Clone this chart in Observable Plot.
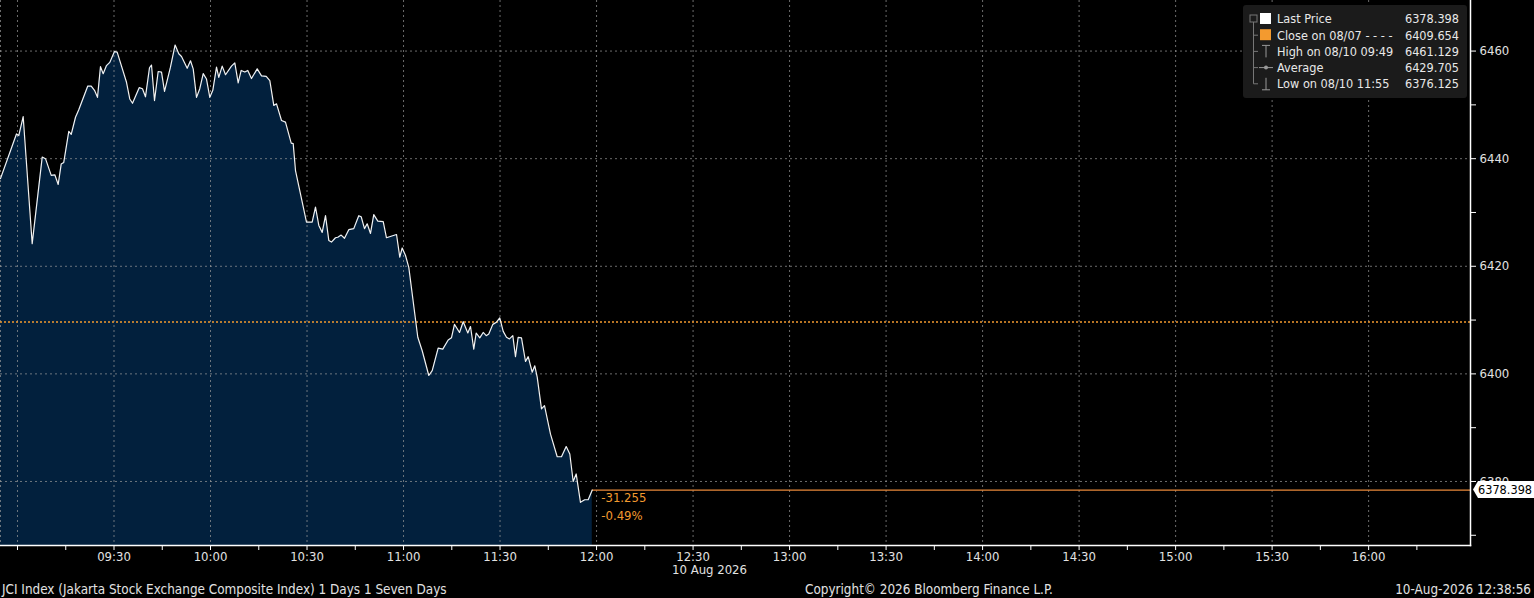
<!DOCTYPE html>
<html>
<head>
<meta charset="utf-8">
<script src="https://cdn.jsdelivr.net/npm/d3@7"></script>
<script src="https://cdn.jsdelivr.net/npm/@observablehq/plot@0.6"></script>
<style>
  body { margin: 0; background: #000; }
  #wrap {
    position: relative; width: 1534px; height: 598px; overflow: hidden; background: #000;
    font-family: "Liberation Sans Narrow", "DejaVu Sans Condensed", "Liberation Sans", sans-serif;
    color: #e2e2e2;
  }
  #legend { position: absolute; left: 1243px; top: 5px; }
  #footer { position: absolute; left: 0; top: 581px; width: 1534px; height: 17px; font-size: 13.4px; line-height: 17px; }
  #footer span { position: absolute; white-space: nowrap; }
</style>
</head>
<body>
<div id="wrap">
  <div id="chart"></div>
  <div id="legend"></div>
  <div id="footer"></div>
</div>
<script>
// intraday JCI prints
const times = [
  "08:54:43", "08:59:41", "09:00:24", "09:01:46", "09:04:34", "09:07:41", "09:08:42", "09:10:29",
  "09:11:36", "09:12:39", "09:13:35", "09:14:23", "09:15:57", "09:16:42", "09:18:02", "09:19:03",
  "09:21:51", "09:22:55", "09:23:56", "09:24:52", "09:25:48", "09:26:38", "09:27:40", "09:28:42",
  "09:30:09", "09:30:59", "09:33:53", "09:34:54", "09:35:45", "09:37:50", "09:38:51", "09:39:47",
  "09:41:02", "09:41:39", "09:42:35", "09:43:44", "09:44:46", "09:45:42", "09:47:33", "09:49:00",
  "09:50:08", "09:50:59", "09:52:45", "09:53:47", "09:54:37", "09:55:39", "09:56:40", "09:57:44",
  "09:58:45", "09:59:47", "10:00:43", "10:01:52", "10:02:34", "10:03:38", "10:04:40", "10:06:31",
  "10:07:33", "10:08:36", "10:09:32", "10:10:40", "10:11:35", "10:12:44", "10:14:31", "10:15:51",
  "10:17:19", "10:18:26", "10:19:40", "10:20:31", "10:22:04", "10:23:18", "10:25:05", "10:25:42",
  "10:26:25", "10:29:50", "10:31:36", "10:32:38", "10:33:40", "10:34:43", "10:35:45", "10:36:46",
  "10:37:36", "10:38:51", "10:39:34", "10:40:37", "10:41:39", "10:42:59", "10:44:32", "10:46:05",
  "10:46:50", "10:47:52", "10:48:42", "10:49:44", "10:50:45", "10:52:00", "10:53:41", "10:54:42",
  "10:57:49", "10:58:50", "10:59:35", "11:00:37", "11:01:38", "11:04:26", "11:05:48", "11:07:51",
  "11:08:55", "11:10:46", "11:12:12", "11:13:53", "11:14:54", "11:15:50", "11:17:24", "11:18:33",
  "11:19:59", "11:20:49", "11:21:50", "11:22:35", "11:23:42", "11:24:46", "11:25:42", "11:26:30",
  "11:27:45", "11:28:54", "11:29:55", "11:30:59", "11:32:00", "11:32:56", "11:33:58", "11:34:48",
  "11:35:38", "11:36:40", "11:37:55", "11:38:45", "11:40:00", "11:40:48", "11:41:33", "11:42:53",
  "11:43:49", "11:45:41", "11:47:46", "11:49:06", "11:50:34", "11:51:41", "11:52:44", "11:53:40",
  "11:55:00", "11:56:20", "11:57:24", "11:58:40"
];
const prices = [
  6436.3, 6444.6, 6444.3, 6447.8, 6424.2, 6440.3, 6440.0, 6436.9,
  6437.0, 6435.2, 6439.0, 6439.3, 6445.1, 6444.5, 6447.7, 6449.1,
  6453.5, 6453.5, 6452.7, 6451.4, 6457.1, 6455.8, 6457.3, 6457.9,
  6459.9, 6459.8, 6454.2, 6451.1, 6450.3, 6453.2, 6453.0, 6451.5,
  6456.9, 6457.4, 6450.8, 6456.2, 6456.1, 6452.5, 6457.0, 6461.129,
  6459.5, 6459.0, 6456.8, 6458.2, 6456.7, 6451.4, 6453.0, 6455.8,
  6454.8, 6451.4, 6452.7, 6457.0, 6455.1, 6457.2, 6455.6, 6457.2,
  6457.8, 6454.1, 6456.4, 6456.1, 6456.4, 6454.9, 6456.7, 6455.4,
  6455.3, 6454.5, 6449.9, 6450.2, 6447.1, 6446.8, 6442.9, 6442.8,
  6437.8, 6428.2, 6428.2, 6431.0, 6427.6, 6426.3, 6429.4, 6424.8,
  6424.5, 6425.3, 6425.4, 6425.8, 6425.2, 6426.8, 6427.0, 6429.4,
  6429.2, 6427.0, 6427.9, 6426.1, 6429.6, 6428.4, 6428.3, 6425.3,
  6425.9, 6421.7, 6423.4, 6422.0, 6419.8, 6406.8, 6404.3, 6399.7,
  6400.6, 6404.8, 6404.6, 6406.3, 6406.7, 6409.2, 6407.7, 6409.7,
  6407.6, 6408.8, 6404.6, 6407.6, 6406.7, 6407.7, 6407.1, 6407.4,
  6409.2, 6409.6, 6410.4, 6407.9, 6406.8, 6406.5, 6407.1, 6403.2,
  6406.8, 6406.7, 6402.3, 6403.2, 6400.3, 6401.5, 6399.4, 6393.5,
  6394.1, 6388.8, 6384.6, 6384.6, 6386.5, 6385.1, 6380.0, 6381.4,
  6376.125, 6376.6, 6376.6, 6378.398
];

const prevClose = 6409.654;
const lastPrice = 6378.398;
const changeLabels = ["-31.255", "-0.49%"];

const legendLabels = ["Last Price", "Close on 08/07 - - - -", "High on 08/10 09:49", "Average", "Low on 08/10 11:55"];
const legendValues = ["6378.398", "6409.654", "6461.129", "6429.705", "6376.125"];

const yTicks = [6370, 6380, 6390, 6400, 6410, 6420, 6430, 6440, 6450, 6460];
const yGrid = [6380, 6400, 6420, 6440, 6460];
const dateLabel = "10 Aug 2026";
const footerLeft = "JCI Index (Jakarta Stock Exchange Composite Index) 1 Days 1 Seven Days";
const footerMid = "Copyright\u00a9 2026 Bloomberg Finance L.P.";
const footerRight = "10-Aug-2026 12:38:56";

const parse = d3.utcParse("%H:%M:%S");
const data = times.map((t, i) => ({ time: parse(t), price: prices[i] }));
const last = data[data.length - 1];

const xStart = parse("08:54:43");
const xEnd = parse("16:31:40");
const tick15 = d3.utcMinute.every(15).range(parse("09:00:00"), parse("16:15:01"));
const grid30 = d3.utcMinute.every(30).range(parse("09:00:00"), parse("16:00:01"));
const fmt = d3.utcFormat("%H:%M");

const font = `"Liberation Sans Narrow", "DejaVu Sans Condensed", "Liberation Sans", sans-serif`;
const orange = "#f39a2f";
const gridStyle = { stroke: "#9a9a9a", strokeOpacity: 0.7, strokeDasharray: "2,3" };

const chart = Plot.plot({
  width: 1534,
  height: 581,
  marginTop: 0,
  marginLeft: 0,
  marginRight: 64,
  marginBottom: 36,
  style: { background: "#000", color: "#e2e2e2", fontFamily: font, fontSize: "13px" },
  x: { type: "utc", domain: [xStart, xEnd], axis: null },
  y: { domain: [6368.1, 6469.4], axis: null, clamp: true },
  marks: [
    Plot.areaY(data, { x: "time", y: "price", fill: "#02203d" }),
    Plot.gridX(grid30, gridStyle),
    Plot.gridY(yGrid, gridStyle),
    Plot.ruleX([xStart], gridStyle),
    Plot.ruleY([prevClose], { stroke: orange, strokeWidth: 1.6, strokeDasharray: "2,2" }),
    Plot.ruleY([lastPrice], { x1: last.time, x2: xEnd, stroke: "#e8893a", strokeWidth: 1.1 }),
    Plot.lineY(data, { x: "time", y: "price", stroke: "#f2f2f2", strokeWidth: 1.2 }),
    Plot.text([changeLabels[0]], {
      x: () => last.time, y: () => last.price, text: (d) => d,
      dx: 9, dy: 8, textAnchor: "start", fill: orange, fontSize: 13
    }),
    Plot.text([changeLabels[1]], {
      x: () => last.time, y: () => last.price, text: (d) => d,
      dx: 9, dy: 26, textAnchor: "start", fill: orange, fontSize: 13
    }),
    Plot.frame({ anchor: "bottom", stroke: "#fff", strokeWidth: 1.5 }),
    Plot.frame({ anchor: "right", stroke: "#fff", strokeWidth: 1.5 }),
    Plot.axisX(tick15, {
      anchor: "bottom", label: null, tickSize: 5, tickPadding: 1, stroke: "#fff", fill: "#e2e2e2", fontSize: 13,
      tickFormat: (d) => (d.getUTCMinutes() % 30 === 0 && d > tick15[0] ? fmt(d) : "")
    }),
    Plot.text([dateLabel], {
      x: () => parse("12:30:00"), frameAnchor: "bottom", dy: 28, dx: -21,
      textAnchor: "start", fill: "#e2e2e2", fontSize: 13
    }),
    Plot.axisY(yTicks, {
      anchor: "right", label: null, tickSize: 5, tickPadding: 4, stroke: "#fff", fill: "#e2e2e2", fontSize: 13,
      tickFormat: (d) => (d % 20 === 0 ? String(d) : "")
    })
  ]
});
document.getElementById("chart").append(chart);

// last price tag in the right margin
const svg = d3.select(chart.tagName === "svg" ? chart : chart.querySelector("svg"));
const ty = chart.scale("y").apply(lastPrice);
const tx = chart.scale("x").apply(xEnd);
const tag = svg.append("g");
tag.append("path")
  .attr("d", `M${tx + 3},${ty} L${tx + 8},${ty - 8.5} H1534 V${ty + 8.5} H${tx + 8} Z`)
  .attr("fill", "#fff");
tag.append("text")
  .attr("x", tx + 8).attr("y", ty).attr("dy", "0.35em").attr("text-anchor", "start")
  .attr("fill", "#000").attr("font-size", 12.6).attr("font-family", font)
  .text(lastPrice.toFixed(3));

// legend box
const lg = d3.select("#legend").append("svg").attr("width", 224).attr("height", 93);
lg.append("rect").attr("width", 224).attr("height", 93).attr("rx", 3).attr("fill", "#1b1b1b");
const rowY = (i) => 14 + i * 16.2;
lg.append("rect").attr("x", 7).attr("y", rowY(0) - 4).attr("width", 7).attr("height", 7)
  .attr("fill", "none").attr("stroke", "#777");
lg.append("path").attr("d", `M10.5,${rowY(0) + 3} V${rowY(4)}`).attr("stroke", "#777");
legendLabels.forEach((label, i) => {
  const y = rowY(i);
  if (i > 0) lg.append("path").attr("d", `M10.5,${y} H15`).attr("stroke", "#777");
  if (i < 2) {
    lg.append("rect").attr("x", 17).attr("y", y - 6).attr("width", 11).attr("height", 11)
      .attr("fill", i === 0 ? "#fff" : orange);
  } else if (i === 2) {
    lg.append("path").attr("d", `M19,${y - 6} H27 M23,${y - 6} V${y + 6}`).attr("stroke", "#999");
  } else if (i === 3) {
    lg.append("path").attr("d", `M16,${y} H30`).attr("stroke", "#999");
    lg.append("circle").attr("cx", 23).attr("cy", y).attr("r", 2).attr("fill", "#999");
  } else {
    lg.append("path").attr("d", `M23,${y - 6} V${y + 6} M19,${y + 6} H27`).attr("stroke", "#999");
  }
  lg.append("text").attr("x", 34).attr("y", y).attr("dy", "0.35em")
    .attr("fill", "#e8e8e8").attr("font-size", 12.6).attr("font-family", font).text(label);
  lg.append("text").attr("x", 216).attr("y", y).attr("dy", "0.35em").attr("text-anchor", "end")
    .attr("fill", "#e8e8e8").attr("font-size", 12.6).attr("font-family", font).text(legendValues[i]);
});

// footer line
const footer = d3.select("#footer");
footer.append("span").style("left", "2px").text(footerLeft);
footer.append("span").style("left", "805px").text(footerMid);
footer.append("span").style("right", "3px").text(footerRight);
</script>
</body>
</html>
